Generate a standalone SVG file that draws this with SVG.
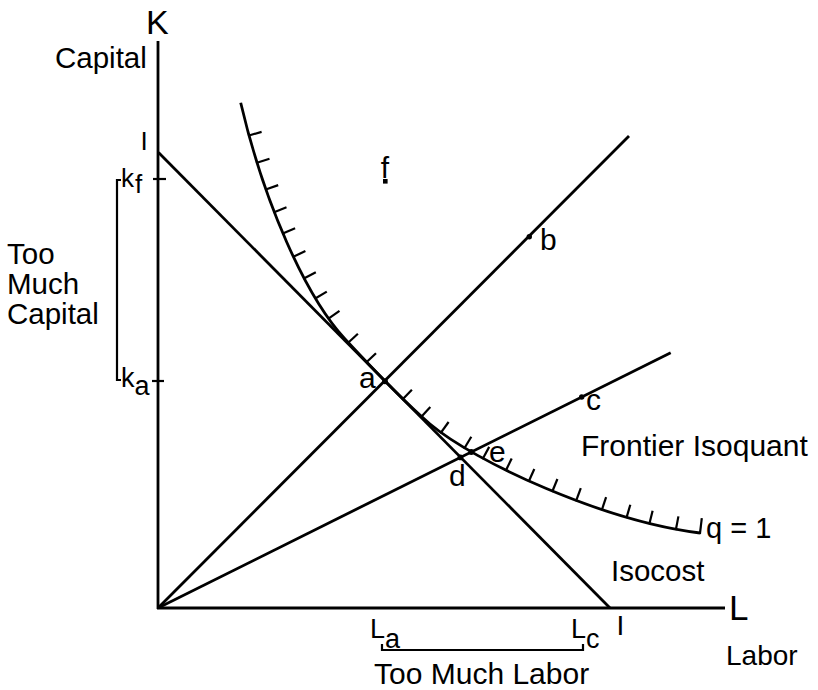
<svg xmlns="http://www.w3.org/2000/svg" width="818" height="690" viewBox="0 0 818 690">
<style>
  .ln { stroke:#000; stroke-width:2.8; fill:none; stroke-linecap:butt; }
  .tk { stroke:#000; stroke-width:2.2; fill:none; }
  .t { font-family:"Liberation Sans", Arial, Helvetica, sans-serif; fill:#000; font-size:30px; }
  .dot { fill:#000; }
</style>
<rect width="818" height="690" fill="#fff"/>

<g id="axes">
  <line class="ln" x1="158" y1="41" x2="158" y2="609"/>
  <line class="ln" x1="157" y1="608" x2="725" y2="608"/>
  <line class="tk" x1="153" y1="179" x2="166" y2="179"/>
  <line class="tk" x1="152" y1="381" x2="164" y2="381"/>
</g>

<g id="connectors">
  <line id="isocost" class="ln" x1="158.5" y1="152.5" x2="610" y2="608"/>
  <line id="ray-ab" class="ln" x1="158" y1="608" x2="629" y2="136"/>
  <line id="ray-dec" class="ln" x1="158" y1="608" x2="670.7" y2="352.7"/>
</g>

<g id="isoquant">
  <path class="ln" d="M240.7,102.7 C263.7,201.8 305.5,296.3 345,339 C373,369.2 402,399.9 430,424 C475,462 603.5,521 700,533"/>
  <g class="tk">
    <line x1="248.1" y1="135.7" x2="261.6" y2="131.9"/>
    <line x1="256.1" y1="163.0" x2="269.5" y2="158.8"/>
    <line x1="265.0" y1="189.7" x2="278.2" y2="185.1"/>
    <line x1="273.5" y1="212.4" x2="286.5" y2="207.3"/>
    <line x1="282.2" y1="233.7" x2="295.1" y2="228.2"/>
    <line x1="292.7" y1="257.1" x2="305.4" y2="251.1"/>
    <line x1="303.4" y1="278.8" x2="315.8" y2="272.2"/>
    <line x1="314.8" y1="298.8" x2="326.8" y2="291.6"/>
    <line x1="328.1" y1="318.9" x2="339.5" y2="310.8"/>
    <line x1="347.6" y1="343.3" x2="357.9" y2="333.8"/>
    <line x1="365.9" y1="362.8" x2="376.0" y2="353.2"/>
    <line x1="402.2" y1="399.8" x2="411.9" y2="389.7"/>
    <line x1="420.9" y1="417.3" x2="430.3" y2="406.9"/>
    <line x1="440.4" y1="433.3" x2="448.6" y2="422.0"/>
    <line x1="464.1" y1="448.8" x2="471.3" y2="436.7"/>
    <line x1="482.5" y1="459.2" x2="489.2" y2="446.9"/>
    <line x1="505.6" y1="471.0" x2="511.7" y2="458.4"/>
    <line x1="528.6" y1="481.8" x2="534.3" y2="469.0"/>
    <line x1="552.1" y1="492.0" x2="557.4" y2="479.0"/>
    <line x1="575.9" y1="501.3" x2="580.8" y2="488.2"/>
    <line x1="601.7" y1="510.4" x2="606.1" y2="497.1"/>
    <line x1="626.4" y1="518.1" x2="630.3" y2="504.7"/>
    <line x1="649.3" y1="524.3" x2="652.6" y2="510.7"/>
    <line x1="675.8" y1="530.1" x2="678.4" y2="516.4"/>
    <line x1="699.9" y1="534.0" x2="701.8" y2="518.1"/>
  </g>
</g>

<g id="points">
  <circle class="dot" cx="385" cy="381.3" r="2.9"/>
  <circle class="dot" cx="460.4" cy="457.4" r="2.9"/>
  <circle class="dot" cx="471.3" cy="452" r="2.9"/>
  <circle class="dot" cx="529.3" cy="236.8" r="2.7"/>
  <circle class="dot" cx="581.7" cy="397" r="2.7"/>
  <rect class="dot" x="383" y="179" width="4.6" height="4.6"/>
</g>

<g id="brackets">
  <path class="tk" d="M121,180 H117 V380 H121"/>
  <path class="tk" d="M382,644 V650 H583 V644"/>
</g>

<g id="labels">
  <text class="t" x="146" y="34" style="font-size:34px">K</text>
  <text class="t" x="55" y="68" style="font-size:29.5px">Capital</text>
  <text class="t" x="140.5" y="150" style="font-size:26px">I</text>
  <text class="t" x="121" y="187" style="font-size:26px">k<tspan dx="1" dy="6">f</tspan></text>
  <text class="t" x="121" y="387" style="font-size:27px">k<tspan dy="8">a</tspan></text>
  <text class="t" x="7" y="264" style="font-size:29.5px">Too</text>
  <text class="t" x="7" y="294" style="font-size:29.5px">Much</text>
  <text class="t" x="7" y="324" style="font-size:29.5px">Capital</text>
  <text class="t" x="385" y="178" text-anchor="middle">f</text>
  <text class="t" x="359" y="388">a</text>
  <text class="t" x="540" y="250">b</text>
  <text class="t" x="586" y="410">c</text>
  <text class="t" x="449" y="486">d</text>
  <text class="t" x="489" y="462">e</text>
  <text class="t" x="581" y="456">Frontier Isoquant</text>
  <text class="t" x="706" y="538" style="font-size:29px">q = 1</text>
  <text class="t" x="611" y="581" style="font-size:29.5px">Isocost</text>
  <text class="t" x="729" y="620" style="font-size:35px">L</text>
  <text class="t" x="616.5" y="635" style="font-size:28px">I</text>
  <text class="t" x="726" y="665" style="font-size:28px">Labor</text>
  <text class="t" x="370" y="638" style="font-size:27px">L<tspan dy="10">a</tspan></text>
  <text class="t" x="571" y="638" style="font-size:27px">L<tspan dy="10">c</tspan></text>
  <text class="t" x="374" y="684">Too Much Labor</text>
</g>
</svg>
